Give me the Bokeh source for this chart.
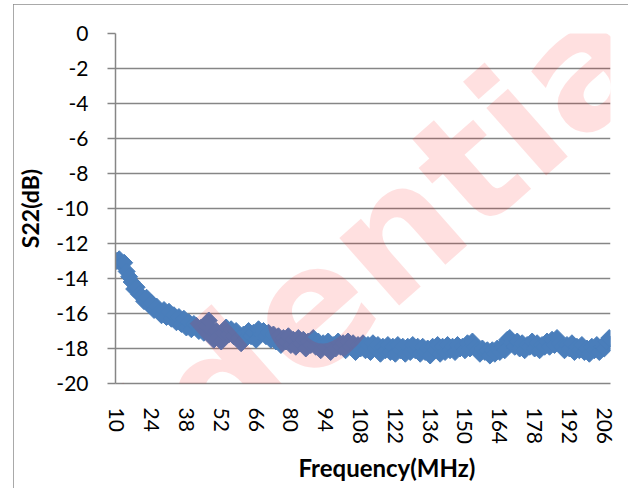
import math
from bokeh.plotting import figure
from bokeh.models import Range1d, FixedTicker, Label, Title
from bokeh.embed import file_html
from bokeh.resources import INLINE

# ---- data ----
freq_mhz = list(range(10, 209))
s22_db = [
    -13.0, -12.9, -13.2, -13.1, -13.6, -13.9, -14.2, -14.6, -14.5, -14.9,
    -15.0, -15.3, -15.1, -15.5, -15.4, -15.8, -15.6, -15.9, -16.1, -15.8,
    -16.2, -15.9, -16.3, -16.1, -16.5, -16.2, -16.6, -16.3, -16.8, -16.5,
    -16.9, -16.6, -16.7, -17.0, -16.8, -17.1, -16.7, -16.4, -16.9, -17.5,
    -17.0, -17.3, -17.6, -17.1, -16.8, -17.2, -16.9, -17.3, -17.0, -17.4,
    -17.7, -17.2, -17.4, -17.0, -17.3, -17.1, -17.5, -16.9, -17.2, -17.0,
    -17.3, -17.1, -17.5, -17.2, -17.6, -17.3, -17.8, -17.4, -17.6, -17.3,
    -17.8, -17.5, -17.9, -17.4, -17.7, -17.5, -18.0, -17.6, -17.8, -17.4,
    -17.9, -17.6, -18.1, -17.7, -17.9, -17.6, -18.2, -17.8, -18.0, -17.6,
    -17.9, -17.7, -18.1, -17.6, -17.9, -17.7, -18.2, -17.8, -18.0, -17.7,
    -18.1, -17.8, -18.2, -17.7, -18.0, -17.8, -18.3, -17.9, -18.1, -17.8,
    -18.2, -17.9, -18.3, -17.8, -18.1, -17.9, -18.3, -17.9, -18.2, -17.8,
    -18.1, -17.9, -18.3, -17.9, -18.2, -18.0, -18.4, -17.9, -18.1, -17.8,
    -18.3, -17.9, -18.2, -17.8, -18.1, -17.9, -18.2, -17.8, -18.0, -17.9,
    -18.1, -17.7, -18.0, -17.6, -17.9, -18.1, -18.3, -18.0, -18.2, -18.1,
    -18.4, -18.1, -18.3, -18.0, -18.2, -17.9, -18.1, -17.5, -17.4, -17.7,
    -17.9, -17.6, -18.0, -17.7, -18.1, -17.8, -17.9, -17.6, -18.0, -17.7,
    -18.1, -17.8, -17.9, -17.6, -17.9, -17.5, -17.8, -17.4, -17.7, -17.9,
    -18.1, -17.8, -18.0, -17.7, -18.2, -17.9, -18.1, -17.8, -18.2, -18.0,
    -18.3, -17.9, -18.1, -17.8, -18.2, -17.9, -18.0, -17.6, -17.4,
]
x_tick_labels = [10, 24, 38, 52, 66, 80, 94, 108, 122, 136, 150, 164, 178, 192, 206]
y_ticks = [0, -2, -4, -6, -8, -10, -12, -14, -16, -18, -20]
x_title = "Frequency(MHz)"
y_title = "S22(dB)"
watermark = "Confidential"

FONT = "Lato"
GRAY = "#868686"
BLUE = "#4A7EBB"

p = figure(
    width=615, height=484,
    x_range=Range1d(9.5, 208.5), y_range=Range1d(-20, 0),
    output_backend="svg", toolbar_location=None,
    min_border_left=100, min_border_right=18,
    min_border_top=29, min_border_bottom=105,
)
p.styles = {"outline": "1px solid #8c8c8c", "outline-offset": "-1px",
            "margin-left": "13px", "margin-top": "4px"}
p.outline_line_color = None
p.background_fill_color = "white"
p.border_fill_color = "white"

# y axis
yax = p.yaxis[0]
yax.ticker = FixedTicker(ticks=y_ticks)
yax.major_label_overrides = {t: str(t) for t in y_ticks}
yax.axis_line_color = GRAY
yax.axis_line_width = 1.5
yax.major_tick_line_color = GRAY
yax.major_tick_line_width = 1.5
yax.major_tick_out = 8
yax.major_tick_in = 0
yax.minor_tick_line_color = None
yax.major_label_text_font = FONT
yax.major_label_text_font_size = "21px"
yax.major_label_text_color = "black"
yax.major_label_standoff = 19
yax.axis_label = y_title
yax.axis_label_text_font = FONT
yax.axis_label_text_font_style = "bold"
yax.axis_label_text_font_size = "23px"
yax.axis_label_text_color = "black"
yax.axis_label_standoff = 9

# x axis
xax = p.xaxis[0]
xax.ticker = FixedTicker(ticks=x_tick_labels)
xax.axis_line_color = GRAY
xax.axis_line_width = 1.5
xax.major_tick_line_color = None
xax.minor_tick_line_color = None
xax.major_label_orientation = "vertical"
xax.major_label_text_font = FONT
xax.major_label_text_font_size = "21px"
xax.major_label_text_color = "black"
xax.major_label_standoff = 18

p.add_layout(Title(text=x_title, align="left", offset=183, standoff=6,
                   text_font=FONT, text_font_style="bold",
                   text_font_size="24px", text_color="black"), "below")

p.xgrid.grid_line_color = None
p.ygrid.ticker = FixedTicker(ticks=y_ticks)
p.ygrid.grid_line_color = GRAY
p.ygrid.grid_line_width = 1.5

p.line(freq_mhz, s22_db, line_color=BLUE, line_width=3)
p.scatter(freq_mhz, s22_db, marker="square", angle=math.pi / 4, size=12,
          fill_color=BLUE, line_color=BLUE, line_width=1)

p.add_layout(Label(x=61.5, y=-19.0, text=watermark, text_font="DejaVu Sans",
                   text_font_style="bold", text_font_size="165px",
                   text_color="red", text_alpha=0.12, angle=41.5,
                   angle_units="deg", text_align="center",
                   text_baseline="middle", level="overlay"))

open("out.html", "w").write(file_html(p, INLINE))
